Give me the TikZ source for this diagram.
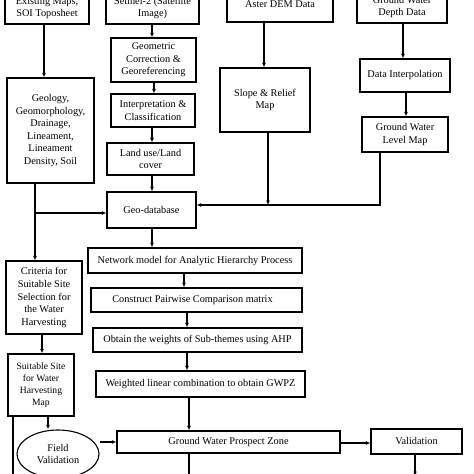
\documentclass[tikz,border=0pt]{standalone}
\usepackage{fontspec}
\setmainfont{Liberation Serif}
\usetikzlibrary{arrows.meta,shadows,shapes.geometric}
\tikzset{
  box/.style={draw=black, line width=1.1pt, fill=white, align=center, inner sep=1pt,
    font=\fontsize{10.3}{12.6}\selectfont,
    drop shadow={shadow xshift=1.2pt, shadow yshift=-1.2pt, fill=black!30}},
  oval/.style={draw=black, line width=1.1pt, fill=white, ellipse, align=center, inner sep=0pt,
    font=\fontsize{10.3}{12.6}\selectfont},
  arr/.style={line width=1.1pt, -{Latex[length=4.5pt,width=3.8pt]}},
  ln/.style={line width=1.1pt}
}
\newcommand{\bx}[6]{\node[box, minimum width=#4pt, minimum height=#5pt] (#1) at (#2,#3) {#6};}
\begin{document}
\begin{tikzpicture}[x=1pt,y=-1pt]
\useasboundingbox (0,0) rectangle (474,474);
\clip (0,0) rectangle (474,474);
\fill[white] (0,0) rectangle (474,474);
% top row
\bx{exist}{47}{8}{84}{32}{Existing Maps,\\SOI Toposheet}
\bx{sentinel}{152.5}{8}{93}{32}{Setinel-2 (Satellite\\Image)}
\bx{aster}{280}{4}{106}{36}{Aster DEM Data}
\bx{gwdepth}{402}{7}{90}{32}{Ground Water\\Depth Data}
% second column
\bx{geom}{153.5}{60}{85}{44}{Geometric\\Correction \&\\Georeferencing}
\bx{interp}{153}{110.5}{84}{33}{Interpretation \&\\Classification}
\bx{landuse}{150.5}{159}{87}{32}{Land use/Land\\cover}
\bx{geodb}{151.5}{210}{89}{36}{Geo-database}
% left column
\bx{geology}{50.5}{130.5}{87}{105}{Geology,\\Geomorphology,\\Drainage,\\Lineament,\\Lineament\\Density, Soil}
% right columns
\bx{slope}{265}{100}{90}{64}{Slope \& Relief\\Map}
\bx{interpdata}{405}{75.5}{90}{33}{Data Interpolation}
\bx{gwlevel}{405}{134.5}{86}{35}{Ground Water\\Level Map}
% AHP chain
\bx{network}{195}{260.5}{214}{25}{Network model for Analytic Hierarchy Process}
\bx{construct}{196.5}{300}{211}{24}{Construct Pairwise Comparison matrix\hspace*{8pt}}
\bx{obtain}{197.5}{340}{209}{24}{Obtain the weights of Sub-themes using AHP}
\bx{weighted}{200.5}{384}{209}{26}{Weighted linear combination to obtain GWPZ}
\bx{gwpz}{228.5}{442}{223}{22}{Ground Water Prospect Zone}
\bx{valid}{416.5}{441.5}{91}{25}{\raisebox{2pt}{Validation}}
% left lower
\bx{criteria}{44}{297.5}{76}{73}{Criteria for\\Suitable Site\\Selection for\\the Water\\Harvesting}
\node[box, minimum width=66pt, minimum height=62pt, font=\fontsize{9.6}{11.8}\selectfont] (suitable) at (41,385) {Suitable Site\\for Water\\Harvesting\\Map};
\node[oval, minimum width=82pt, minimum height=48pt] (field) at (58,454) {Field\\Validation};
% helper coordinates
\coordinate (c44) at (44,0);
\coordinate (c35) at (35,0);
\coordinate (j213) at (35,213);
\coordinate (c264) at (264,0);
\coordinate (c268) at (268,0);
\coordinate (j205) at (268,205);
\coordinate (c380) at (380,0);
\coordinate (c403) at (403,0);
\coordinate (c406) at (406,0);
\coordinate (c184) at (184,0);
\coordinate (c187) at (187,0);
\coordinate (c189) at (189,0);
\coordinate (c415) at (415,0);
\coordinate (c42) at (42,0);
\coordinate (c48) at (48,0);
\coordinate (c13) at (13,0);
\coordinate (c152) at (152,0);
\coordinate (c154) at (154,0);
\coordinate (bot) at (0,480);
\coordinate (botv) at (0,476);
% connectors
\draw[arr] (exist.south -| c44) -- (geology.north -| c44);
\draw[arr] (sentinel.south -| c152) -- (geom.north -| c152);
\draw[arr] (geom.south -| c154) -- (interp.north -| c154);
\draw[arr] (interp.south -| c152) -- (landuse.north -| c152);
\draw[arr] (landuse.south -| c152) -- (geodb.north -| c152);
\draw[arr] (geodb.south -| c152) -- (network.north -| c152);
\draw[arr] (aster.south -| c264) -- (slope.north -| c264);
\draw[arr] (slope.south -| c268) -- (j205);
\draw[arr] (gwlevel.south -| c380) -- (c380 |- j205) -- (geodb.east |- j205);
\draw[arr] (gwdepth.south -| c403) -- (interpdata.north -| c403);
\draw[arr] (interpdata.south -| c406) -- (gwlevel.north -| c406);
\draw[arr] (geology.south -| c35) -- (criteria.north -| c35);
\draw[arr] (j213) -- (geodb.west |- j213);
\draw[arr] (network.south -| c184) -- (construct.north -| c184);
\draw[arr] (construct.south -| c187) -- (obtain.north -| c187);
\draw[arr] (obtain.south -| c187) -- (weighted.north -| c187);
\draw[arr] (weighted.south -| c189) -- (gwpz.north -| c189);
\draw[ln] (gwpz.south -| c189) -- (c189 |- bot);
\draw[arr] (gwpz.east |- 0,443) -- (valid.west |- 0,443);
\draw[arr] (valid.south -| c415) -- (c415 |- botv);
\draw[arr] (criteria.south -| c42) -- (suitable.north -| c42);
\draw[arr] (suitable.south -| c48) -- (field.north -| c48);
\draw[ln] (suitable.south -| c13) -- (c13 |- bot);
\draw[arr] (field.east |- 0,442) -- (gwpz.west |- 0,442);
\end{tikzpicture}
\end{document}
